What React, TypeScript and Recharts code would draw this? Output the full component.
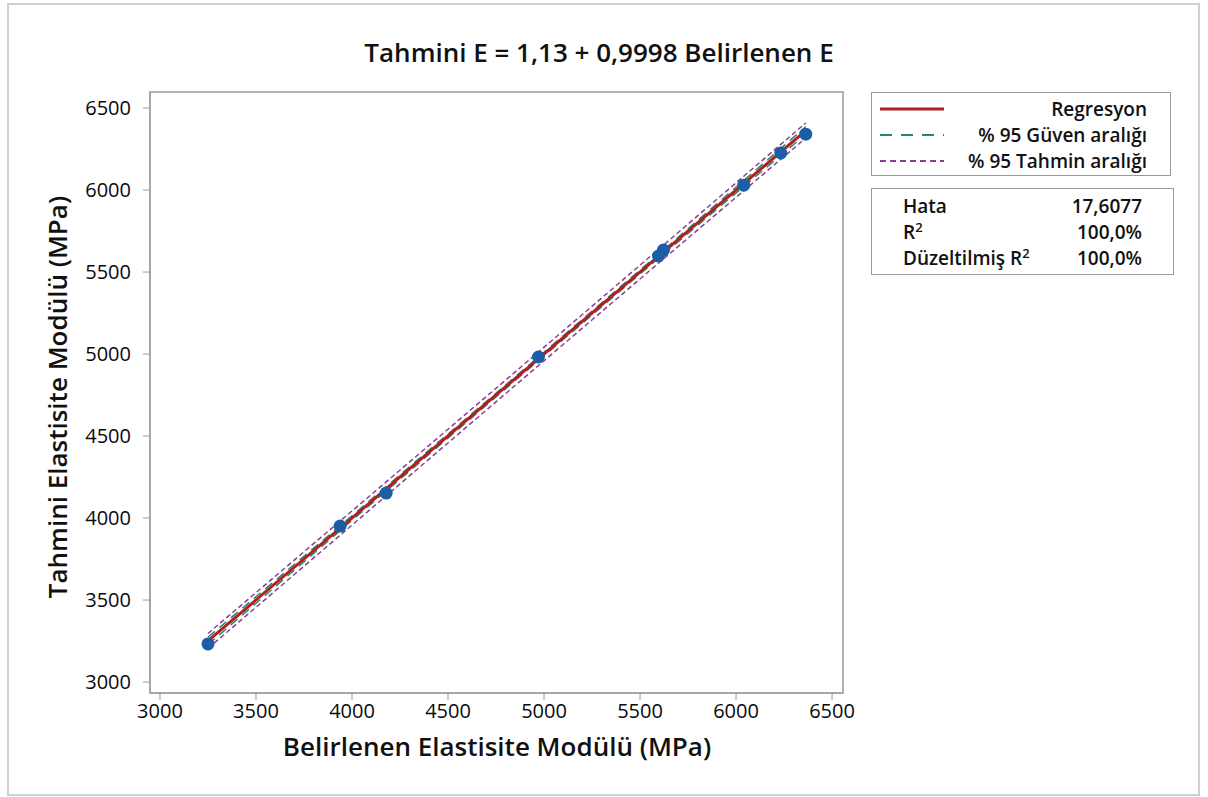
import { ComposedChart, Line, Scatter, XAxis, YAxis, ReferenceArea } from 'recharts'

const xTicks = [3000, 3500, 4000, 4500, 5000, 5500, 6000, 6500]
const yTicks = [3000, 3500, 4000, 4500, 5000, 5500, 6000, 6500]
const xDomain = [2948, 6557]
const yDomain = [2933, 6598]

// observed values (Belirlenen vs Tahmini)
const belirlenen = [3250, 3938, 4178, 4971, 5596, 5622, 6040, 6233, 6363]
const tahmini = [3232, 3951, 4152, 4982, 5598, 5634, 6030, 6226, 6341]

// fitted line end points
const fitX = [3250, 6363]
const fitY = [3250.5, 6362.9]

// band outlines
const bandX = [3250, 4000, 4800, 5600, 6363]
const ciLow = [3228, 3986, 4789, 5588, 6340]
const ciHigh = [3273, 4014, 4811, 5612, 6386]
const piLow = [3205, 3957, 4759, 5558, 6317]
const piHigh = [3296, 4043, 4841, 5642, 6409]

const pts = (xs: number[], ys: number[]) => xs.map((x, i) => ({ x, y: ys[i] }))

const FONT = '"Open Sans", "Noto Sans", sans-serif'
const RED = '#b0201f'
const GREEN = '#1f8a6c'
const PURPLE = '#8f3c96'
const BLUE = '#1c5ea6'
const FRAME = '#9a9a9a'

const tickStyle = { fill: '#0a0a0a', fontSize: 20, fontFamily: FONT, fontWeight: 500 }
const supStyle = { fontSize: 13, lineHeight: 0, verticalAlign: 'super' as const }

export default function App() {
  return (
    <div style={{ position: 'absolute', left: 0, top: 0, width: 1208, height: 797, background: '#fff', fontFamily: FONT, color: '#111' }}>
      <div style={{ position: 'absolute', left: 7, top: 3, width: 1189, height: 789, border: '2px solid #d0d0d0' }} />

      <ComposedChart width={1208} height={797} margin={{ top: 92, right: 365, bottom: 74, left: 90 }}>
        <XAxis
          type="number"
          dataKey="x"
          domain={xDomain}
          ticks={xTicks}
          allowDataOverflow
          height={30}
          tick={tickStyle}
          tickSize={7}
          tickMargin={4}
          stroke={FRAME}
        />
        <YAxis
          type="number"
          dataKey="y"
          domain={yDomain}
          ticks={yTicks}
          allowDataOverflow
          width={60}
          tick={tickStyle}
          tickSize={7}
          tickMargin={12}
          stroke={FRAME}
        />
        <ReferenceArea x1={xDomain[0]} x2={xDomain[1]} y1={yDomain[0]} y2={yDomain[1]} fill="none" stroke={FRAME} strokeWidth={1.5} />

        {/* prediction interval */}
        <Line data={pts(bandX, piLow)} dataKey="y" stroke={PURPLE} strokeWidth={1.5} strokeDasharray="5 3" dot={false} isAnimationActive={false} />
        <Line data={pts(bandX, piHigh)} dataKey="y" stroke={PURPLE} strokeWidth={1.5} strokeDasharray="5 3" dot={false} isAnimationActive={false} />
        {/* confidence interval */}
        <Line data={pts(bandX, ciLow)} dataKey="y" stroke={GREEN} strokeWidth={1.5} strokeDasharray="9 6" dot={false} isAnimationActive={false} />
        <Line data={pts(bandX, ciHigh)} dataKey="y" stroke={GREEN} strokeWidth={1.5} strokeDasharray="9 6" dot={false} isAnimationActive={false} />
        {/* regression */}
        <Line data={pts(fitX, fitY)} dataKey="y" stroke={RED} strokeWidth={3} dot={false} isAnimationActive={false} />

        <Scatter data={pts(belirlenen, tahmini)} fill={BLUE} shape={(p: any) => <circle cx={p.cx} cy={p.cy} r={6.5} fill={BLUE} />} isAnimationActive={false} />
      </ComposedChart>

      <div style={{ position: 'absolute', left: 599, top: 34, transform: 'translateX(-50%)', fontSize: 26, fontWeight: 600, whiteSpace: 'nowrap' }}>
        Tahmini E = 1,13 + 0,9998 Belirlenen E
      </div>
      <div style={{ position: 'absolute', left: 497, top: 728, transform: 'translateX(-50%)', fontSize: 26, fontWeight: 600, whiteSpace: 'nowrap' }}>
        Belirlenen Elastisite Modülü (MPa)
      </div>
      <div style={{ position: 'absolute', left: 57, top: 397, transform: 'translate(-50%, -50%) rotate(-90deg)', fontSize: 26, fontWeight: 600, whiteSpace: 'nowrap' }}>
        Tahmini Elastisite Modülü (MPa)
      </div>

      {/* legend box */}
      <div style={{ position: 'absolute', left: 871, top: 92, width: 300, height: 84, border: `1.5px solid ${FRAME}`, boxSizing: 'border-box', fontSize: 19, fontWeight: 600 }}>
        {[
          { label: 'Regresyon', color: RED, w: 3, dash: undefined },
          { label: '% 95 Güven aralığı', color: GREEN, w: 2, dash: '12 9' },
          { label: '% 95 Tahmin aralığı', color: PURPLE, w: 2, dash: '6 4' },
        ].map((r, i) => (
          <div key={r.label} style={{ position: 'absolute', left: 0, top: 3 + i * 26, width: 300, height: 26 }}>
            <svg width={70} height={26} style={{ position: 'absolute', left: 6, top: 0 }}>
              <line x1={2} x2={66} y1={13} y2={13} stroke={r.color} strokeWidth={r.w} strokeDasharray={r.dash} />
            </svg>
            <span style={{ position: 'absolute', right: 25, top: 0, lineHeight: '26px', whiteSpace: 'nowrap' }}>{r.label}</span>
          </div>
        ))}
      </div>

      {/* stats box */}
      <div style={{ position: 'absolute', left: 871, top: 188, width: 303, height: 87, border: `1.5px solid ${FRAME}`, boxSizing: 'border-box', fontSize: 19, fontWeight: 600 }}>
        {[
          { k: <>Hata</>, v: '17,6077' },
          { k: <>R<sup style={supStyle}>2</sup></>, v: '100,0%' },
          { k: <>Düzeltilmiş R<sup style={supStyle}>2</sup></>, v: '100,0%' },
        ].map((r, i) => (
          <div key={i} style={{ position: 'absolute', left: 0, top: 4 + i * 26, width: 300, height: 26 }}>
            <span style={{ position: 'absolute', left: 31, top: 0, lineHeight: '26px', whiteSpace: 'nowrap' }}>{r.k}</span>
            <span style={{ position: 'absolute', right: 30, top: 0, lineHeight: '26px', whiteSpace: 'nowrap' }}>{r.v}</span>
          </div>
        ))}
      </div>
    </div>
  )
}
